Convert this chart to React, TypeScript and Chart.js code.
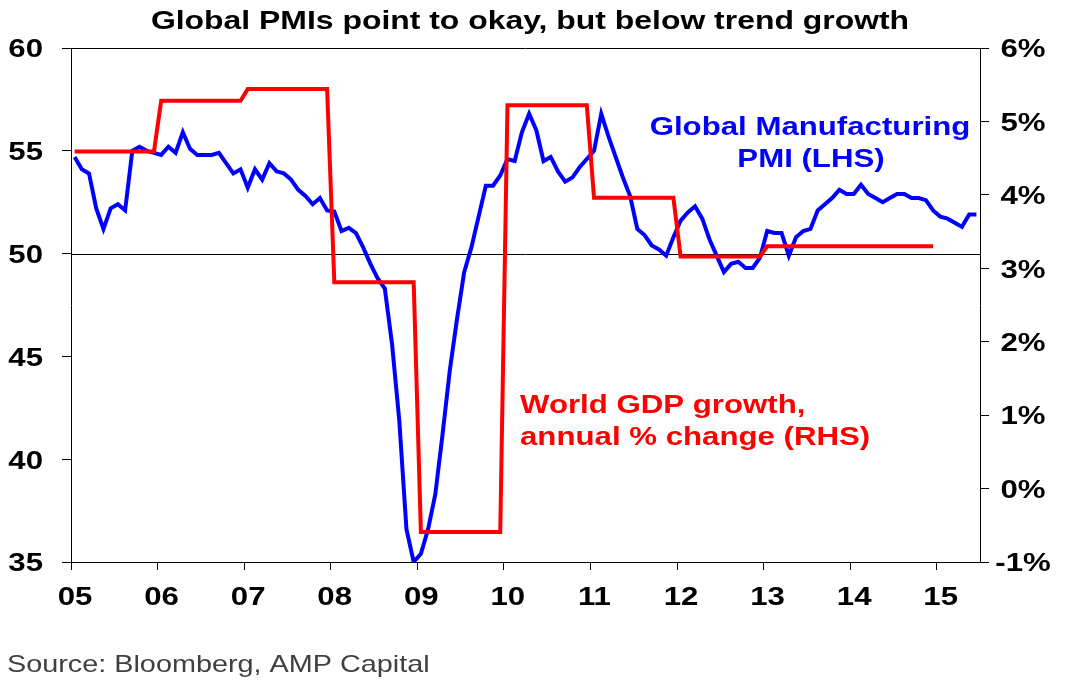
import React, { useEffect, useRef } from "react";
import { Chart, registerables } from "chart.js";

Chart.register(...registerables);

// Global manufacturing PMI, monthly from Jan 2005 to Jun 2015
const PMI_START_YEAR = 2005;
const GLOBAL_PMI = [
  // 2005
  54.7, 54.1, 53.9, 52.2, 51.2, 52.2, 52.4, 52.1, 55.0, 55.2, 55.0, 54.9,
  // 2006
  54.8, 55.2, 54.9, 55.9, 55.1, 54.8, 54.8, 54.8, 54.9, 54.4, 53.9, 54.1,
  // 2007
  53.2, 54.1, 53.6, 54.4, 54.0, 53.9, 53.6, 53.1, 52.8, 52.4, 52.7, 52.1,
  // 2008
  52.05, 51.1, 51.25, 51.0, 50.3, 49.5, 48.8, 48.3, 45.6, 41.9, 36.6, 35.0,
  // 2009
  35.4, 36.6, 38.3, 41.2, 44.3, 46.8, 49.1, 50.3, 51.8, 53.3, 53.3, 53.8,
  // 2010
  54.6, 54.5, 55.9, 56.8, 56.0, 54.5, 54.7, 54.0, 53.5, 53.7, 54.2, 54.6,
  // 2011
  55.0, 56.8, 55.7, 54.7, 53.7, 52.8, 51.2, 50.9, 50.4, 50.2, 49.9, 50.8,
  // 2012
  51.6, 52.0, 52.3, 51.7, 50.7, 49.9, 49.1, 49.5, 49.6, 49.3, 49.3, 49.8,
  // 2013
  51.1, 51.0, 51.0, 49.9, 50.8, 51.1, 51.2, 52.1, 52.4, 52.7, 53.1, 52.9,
  // 2014
  52.9, 53.35, 52.9, 52.7, 52.5, 52.7, 52.9, 52.9, 52.7, 52.7, 52.6, 52.1,
  // 2015 (Jan-Jun)
  51.8, 51.7, 51.5, 51.3, 51.9, 51.9,
];

// World GDP growth, annual % change, held for every month of the year
const GDP_YEARS = [2005, 2006, 2007, 2008, 2009, 2010, 2011, 2012, 2013, 2014];
const GDP_GROWTH = [4.59, 5.28, 5.44, 2.81, -0.59, 5.22, 3.96, 3.16, 3.3, 3.3];

// Axis ticks
const X_TICK_YEARS = [2005, 2006, 2007, 2008, 2009, 2010, 2011, 2012, 2013, 2014, 2015];
const X_TICK_LABELS = ["05", "06", "07", "08", "09", "10", "11", "12", "13", "14", "15"];
const LEFT_TICKS = [35, 40, 45, 50, 55, 60];
const RIGHT_TICKS = [-1, 0, 1, 2, 3, 4, 5, 6];
const RIGHT_TICK_LABELS = ["-1%", "0%", "1%", "2%", "3%", "4%", "5%", "6%"];

const TITLE = "Global PMIs point to okay, but below trend growth";
const PMI_LABEL = ["Global Manufacturing", "PMI (LHS)"];
const GDP_LABEL = ["World GDP growth,", "annual % change (RHS)"];
const SOURCE = "Source: Bloomberg, AMP Capital";

const W = 1072;
const H = 697;
const FONT_FAMILY = "'Liberation Sans', Arial, Helvetica, sans-serif";
const STRETCH = 1.2; // lettering is drawn slightly wide

// mid-month position on a decimal-year axis
const monthX = (year: number, monthIndex: number) => year + (monthIndex + 0.5) / 12;

const pmiPoints = GLOBAL_PMI.map((v, i) => ({
  x: monthX(PMI_START_YEAR + Math.floor(i / 12), i % 12),
  y: v,
}));

const gdpPoints = GDP_YEARS.flatMap((yr, k) =>
  Array.from({ length: 12 }, (_, m) => ({ x: monthX(yr, m), y: GDP_GROWTH[k] }))
);

function drawText(
  ctx: CanvasRenderingContext2D,
  text: string,
  x: number,
  y: number,
  font: string,
  color: string,
  align: "left" | "center" | "right"
) {
  ctx.save();
  ctx.font = font;
  ctx.fillStyle = color;
  ctx.textAlign = "left";
  ctx.textBaseline = "alphabetic";
  const w = ctx.measureText(text).width * STRETCH;
  const left = align === "center" ? x - w / 2 : align === "right" ? x - w : x;
  ctx.translate(left, y);
  ctx.scale(STRETCH, 1);
  ctx.fillText(text, 0, 0);
  ctx.restore();
}

const textLayer = {
  id: "textLayer",
  beforeDatasetsDraw(chart: any) {
    const { ctx, chartArea, scales } = chart;
    // reference line at PMI 50
    const y50 = Math.round(scales.y.getPixelForValue(50)) + 0.5;
    ctx.save();
    ctx.strokeStyle = "#000";
    ctx.lineWidth = 1;
    ctx.beginPath();
    ctx.moveTo(chartArea.left, y50);
    ctx.lineTo(chartArea.right, y50);
    ctx.stroke();
    ctx.restore();
  },
  afterDraw(chart: any) {
    const { ctx, chartArea, scales } = chart;
    // top frame line
    ctx.save();
    ctx.strokeStyle = "#000";
    ctx.lineWidth = 1;
    ctx.beginPath();
    ctx.moveTo(chartArea.left, Math.round(chartArea.top) + 0.5);
    ctx.lineTo(chartArea.right, Math.round(chartArea.top) + 0.5);
    ctx.stroke();
    ctx.restore();

    const tickFont = `bold 26px ${FONT_FAMILY}`;
    LEFT_TICKS.forEach((v) => {
      drawText(ctx, String(v), 43, scales.y.getPixelForValue(v) + 9.3, tickFont, "#000", "right");
    });
    RIGHT_TICKS.forEach((v, i) => {
      drawText(ctx, RIGHT_TICK_LABELS[i], 1023, scales.y2.getPixelForValue(v) + 9.3, tickFont, "#000", "center");
    });
    X_TICK_YEARS.forEach((v, i) => {
      drawText(ctx, X_TICK_LABELS[i], scales.x.getPixelForValue(v) + 4, 605, tickFont, "#000", "center");
    });

    drawText(ctx, TITLE, 530, 29, `bold 26.6px ${FONT_FAMILY}`, "#000", "center");

    const annFont = `bold 26px ${FONT_FAMILY}`;
    drawText(ctx, PMI_LABEL[0], 810, 135, annFont, "#0000FF", "center");
    drawText(ctx, PMI_LABEL[1], 811, 167, annFont, "#0000FF", "center");
    drawText(ctx, GDP_LABEL[0], 520, 413, annFont, "#FF0000", "left");
    drawText(ctx, GDP_LABEL[1], 520, 445, annFont, "#FF0000", "left");

    drawText(ctx, SOURCE, 7, 672, `24px ${FONT_FAMILY}`, "#404040", "left");
  },
};

export default function App() {
  const canvasRef = useRef<HTMLCanvasElement | null>(null);

  useEffect(() => {
    const canvas = canvasRef.current;
    if (!canvas) return;
    const chart = new Chart(canvas, {
      type: "line",
      data: {
        datasets: [
          {
            label: "World GDP growth, annual % change (RHS)",
            data: gdpPoints,
            yAxisID: "y2",
            borderColor: "#FF0000",
            borderWidth: 4,
            pointRadius: 0,
            tension: 0,
            order: 0,
          },
          {
            label: "Global Manufacturing PMI (LHS)",
            data: pmiPoints,
            yAxisID: "y",
            borderColor: "#0000FF",
            borderWidth: 4,
            pointRadius: 0,
            tension: 0,
            order: 1,
          },
        ],
      },
      options: {
        responsive: false,
        animation: false,
        devicePixelRatio: 1,
        layout: { padding: { top: 48, left: 0, right: 0, bottom: 0 } },
        plugins: {
          legend: { display: false },
          tooltip: { enabled: false },
          title: { display: false },
        },
        scales: {
          x: {
            type: "linear",
            min: 2005,
            max: 2015.5,
            afterBuildTicks: (scale: any) => {
              scale.ticks = X_TICK_YEARS.map((v) => ({ value: v }));
            },
            afterFit: (scale: any) => {
              scale.height = H - 562;
            },
            ticks: { display: false },
            grid: { drawOnChartArea: false, tickLength: 8, color: "#000", lineWidth: 1 },
            border: { display: true, color: "#000", width: 1 },
          },
          y: {
            type: "linear",
            position: "left",
            min: 35,
            max: 60,
            afterBuildTicks: (scale: any) => {
              scale.ticks = LEFT_TICKS.map((v) => ({ value: v }));
            },
            afterFit: (scale: any) => {
              scale.width = 71;
            },
            ticks: { display: false },
            grid: { drawOnChartArea: false, tickLength: 9, color: "#000", lineWidth: 1 },
            border: { display: true, color: "#000", width: 1 },
          },
          y2: {
            type: "linear",
            position: "right",
            min: -1,
            max: 6,
            afterBuildTicks: (scale: any) => {
              scale.ticks = RIGHT_TICKS.map((v) => ({ value: v }));
            },
            afterFit: (scale: any) => {
              scale.width = W - 980;
            },
            ticks: { display: false },
            grid: { drawOnChartArea: false, tickLength: 9, color: "#000", lineWidth: 1 },
            border: { display: true, color: "#000", width: 1 },
          },
        },
      },
      plugins: [textLayer],
    });
    return () => chart.destroy();
  }, []);

  return (
    <div style={{ position: "absolute", left: 0, top: 0, width: W, height: H, background: "#fff" }}>
      <canvas ref={canvasRef} width={W} height={H} style={{ display: "block" }} />
    </div>
  );
}
